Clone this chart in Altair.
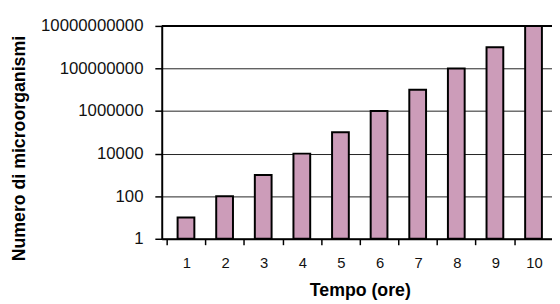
import altair as alt
import pandas as pd

ore = [1, 2, 3, 4, 5, 6, 7, 8, 9, 10]
microrganismi = [1e1, 1e2, 1e3, 1e4, 1e5, 1e6, 1e7, 1e8, 1e9, 1e10]
y_ticks = [1, 100, 10000, 1000000, 100000000, 10000000000]
x_ticks = [0.5, 1.5, 2.5, 3.5, 4.5, 5.5, 6.5, 7.5, 8.5, 9.5, 10.5]

df = pd.DataFrame({"ore": ore, "n": microrganismi, "base": [1] * len(ore)})

FONT = "Liberation Sans"
STEP = 40.2
W = 396

bars = alt.Chart(df).mark_bar(
    fill="#cc9cb9", stroke="#000000", strokeWidth=2, width=17,
).encode(
    x=alt.X(
        "ore:Q",
        scale=alt.Scale(domain=[0.5, 0.5 + W / STEP], nice=False, zero=False),
        axis=alt.Axis(
            title="Tempo (ore)",
            values=x_ticks,
            labelExpr="datum.value > 10 ? '' : format(datum.value + 0.5, 'd')",
            labelOffset=STEP / 2,
            labelAngle=0,
            labelAlign="center",
            labelFontSize=15,
            labelPadding=11,
            labelFlush=False,
            labelOverlap=False,
            tickSize=6,
            tickColor="#000000",
            tickWidth=1.5,
            domainColor="#000000",
            domainWidth=2,
            titleFontSize=18,
            titleFontWeight="bold",
            titlePadding=12,
            titleX=201,
            grid=False,
        ),
    ),
    y=alt.Y(
        "n:Q",
        scale=alt.Scale(type="log", domain=[1, 1e10], nice=False),
        axis=alt.Axis(
            title="Numero di microorganismi",
            values=y_ticks,
            format="d",
            labelFontSize=17,
            labelPadding=12,
            tickSize=7,
            tickColor="#000000",
            tickWidth=1.5,
            domainColor="#000000",
            domainWidth=2,
            grid=True,
            gridColor="#222222",
            gridWidth=1,
            titleFontSize=18,
            titleFontWeight="bold",
            titleX=-144,
            titleY=124,
            titleBaseline="middle",
            titleAlign="center",
            titleAngle=270,
        ),
    ),
    y2="base:Q",
)

top = alt.Chart(pd.DataFrame({"v": [y_ticks[-1]]})).mark_rule(
    color="#000000", strokeWidth=2
).encode(y=alt.Y("v:Q"))

chart = alt.layer(top, bars).properties(
    width=W,
    height=216,
    autosize=alt.AutoSizeParams(type="none"),
    padding={"left": 156, "top": 16, "right": 0, "bottom": 64},
).configure_view(stroke=None).configure_axis(
    labelFont=FONT, titleFont=FONT, labelColor="#111111", titleColor="#000000"
)

chart.save("out.html", embed_options={"renderer": "svg", "actions": False})
